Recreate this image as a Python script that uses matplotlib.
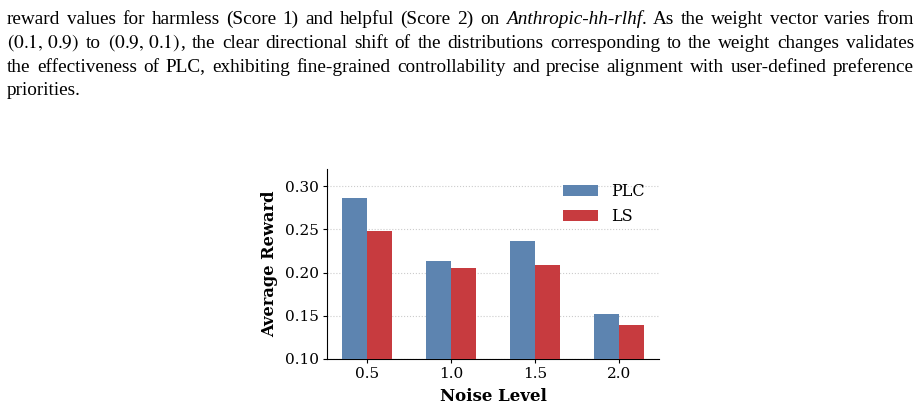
import numpy as np
import matplotlib
matplotlib.use("Agg")
import matplotlib.pyplot as plt

# 数据
noise_levels = ["0.5", "1.0", "1.5", "2.0"]
plc_reward = [0.286, 0.213, 0.237, 0.152]
ls_reward = [0.248, 0.205, 0.209, 0.139]

# caption lines above the figure (segments: text, style)
caption_lines = [
    [("reward values for harmless (Score 1) and helpful (Score 2) on ", "n"),
     ("Anthropic-hh-rlhf", "i"), (". As the weight vector varies from", "n")],
    [("$(0.1,\\,0.9)$", "n"), (" to ", "n"), ("$(0.9,\\,0.1)$", "n"),
     (", the clear directional shift of the distributions corresponding to the weight changes validates", "n")],
    [("the effectiveness of PLC, exhibiting fine-grained controllability and precise alignment with user-defined preference", "n")],
    [("priorities.", "n")],
]

plt.rcParams['mathtext.fontset'] = 'stix'

fig = plt.figure(figsize=(9.21, 4.08), dpi=100)
renderer = fig.canvas.get_renderer()

# --- caption, justified word by word ---
cap_size = 13.9
left_px, right_px = 7, 914
baselines = [23.5, 47.5, 71.5, 95.0]
W, H = 921, 408


def text_w(s, st="n"):
    t = fig.text(0, 0, s, fontsize=cap_size, family="Liberation Serif",
                 style="italic" if st == "i" else "normal")
    w = t.get_window_extent(renderer).width
    t.remove()
    return w


def adv_w(s, st="n"):
    # advance width: pad with x on both sides so the ink bbox doesn't cut bearings
    return text_w("x" + s + "x", st) - text_w("xx", st)


def make_words(segs):
    # split segments into words, a word is a list of (text, style)
    words = [[]]
    for txt, st in segs:
        parts = txt.split(" ")
        for k, p in enumerate(parts):
            if k > 0:
                words.append([])
            if p:
                words[-1].append((p, st))
    return [w for w in words if w]


space_w = text_w("a a") - text_w("aa")

for i, segs in enumerate(caption_lines):
    words = make_words(segs)
    y = baselines[i]
    widths = [[adv_w(txt, st) for txt, st in w] for w in words]
    totals = [sum(ws) for ws in widths]
    last = i == len(caption_lines) - 1
    gap = space_w if (last or len(words) < 2) else (right_px - left_px - sum(totals)) / (len(words) - 1)
    x = left_px
    for w, ws, tot in zip(words, widths, totals):
        xx = x
        for (txt, st), pw in zip(w, ws):
            fig.text(xx / W, 1 - y / H, txt, fontsize=cap_size, family="Liberation Serif",
                     style="italic" if st == "i" else "normal", va="baseline", ha="left")
            xx += pw
        x += tot + gap

# --- bar chart ---
ax = fig.add_axes([327 / W, 49 / H, (659 - 327) / W, (359 - 169) / H])
x = np.arange(len(noise_levels))
bw = 0.3
ax.bar(x - bw / 2, plc_reward, bw, color="#5d84b0", label="PLC", zorder=3)
ax.bar(x + bw / 2, ls_reward, bw, color="#c73b3f", label="LS", zorder=3)

ax.set_ylim(0.10, 0.32)
ax.set_xlim(-0.475, 3.475)
ax.set_xticks(x)
ax.set_xticklabels(noise_levels, family="DejaVu Serif", fontsize=11)
ax.set_yticks([0.10, 0.15, 0.20, 0.25, 0.30])
ax.set_yticklabels(["0.10", "0.15", "0.20", "0.25", "0.30"], family="DejaVu Serif", fontsize=11)
ax.tick_params(length=3, width=0.8, pad=3)
ax.set_xlabel("Noise Level", family="DejaVu Serif", fontweight="bold", fontsize=12, labelpad=5)
ax.set_ylabel("Average Reward", family="DejaVu Serif", fontweight="bold", fontsize=11.7, labelpad=5)
ax.grid(axis="y", linestyle=":", color="#cccccc", linewidth=0.8, zorder=0)
ax.spines["top"].set_visible(False)
ax.spines["right"].set_visible(False)
ax.legend(loc="upper right", frameon=False, prop={"family": "DejaVu Serif", "size": 11.5},
          bbox_to_anchor=(1.0, 1.0), handlelength=2.2)

fig.savefig("out.png", dpi=100)
